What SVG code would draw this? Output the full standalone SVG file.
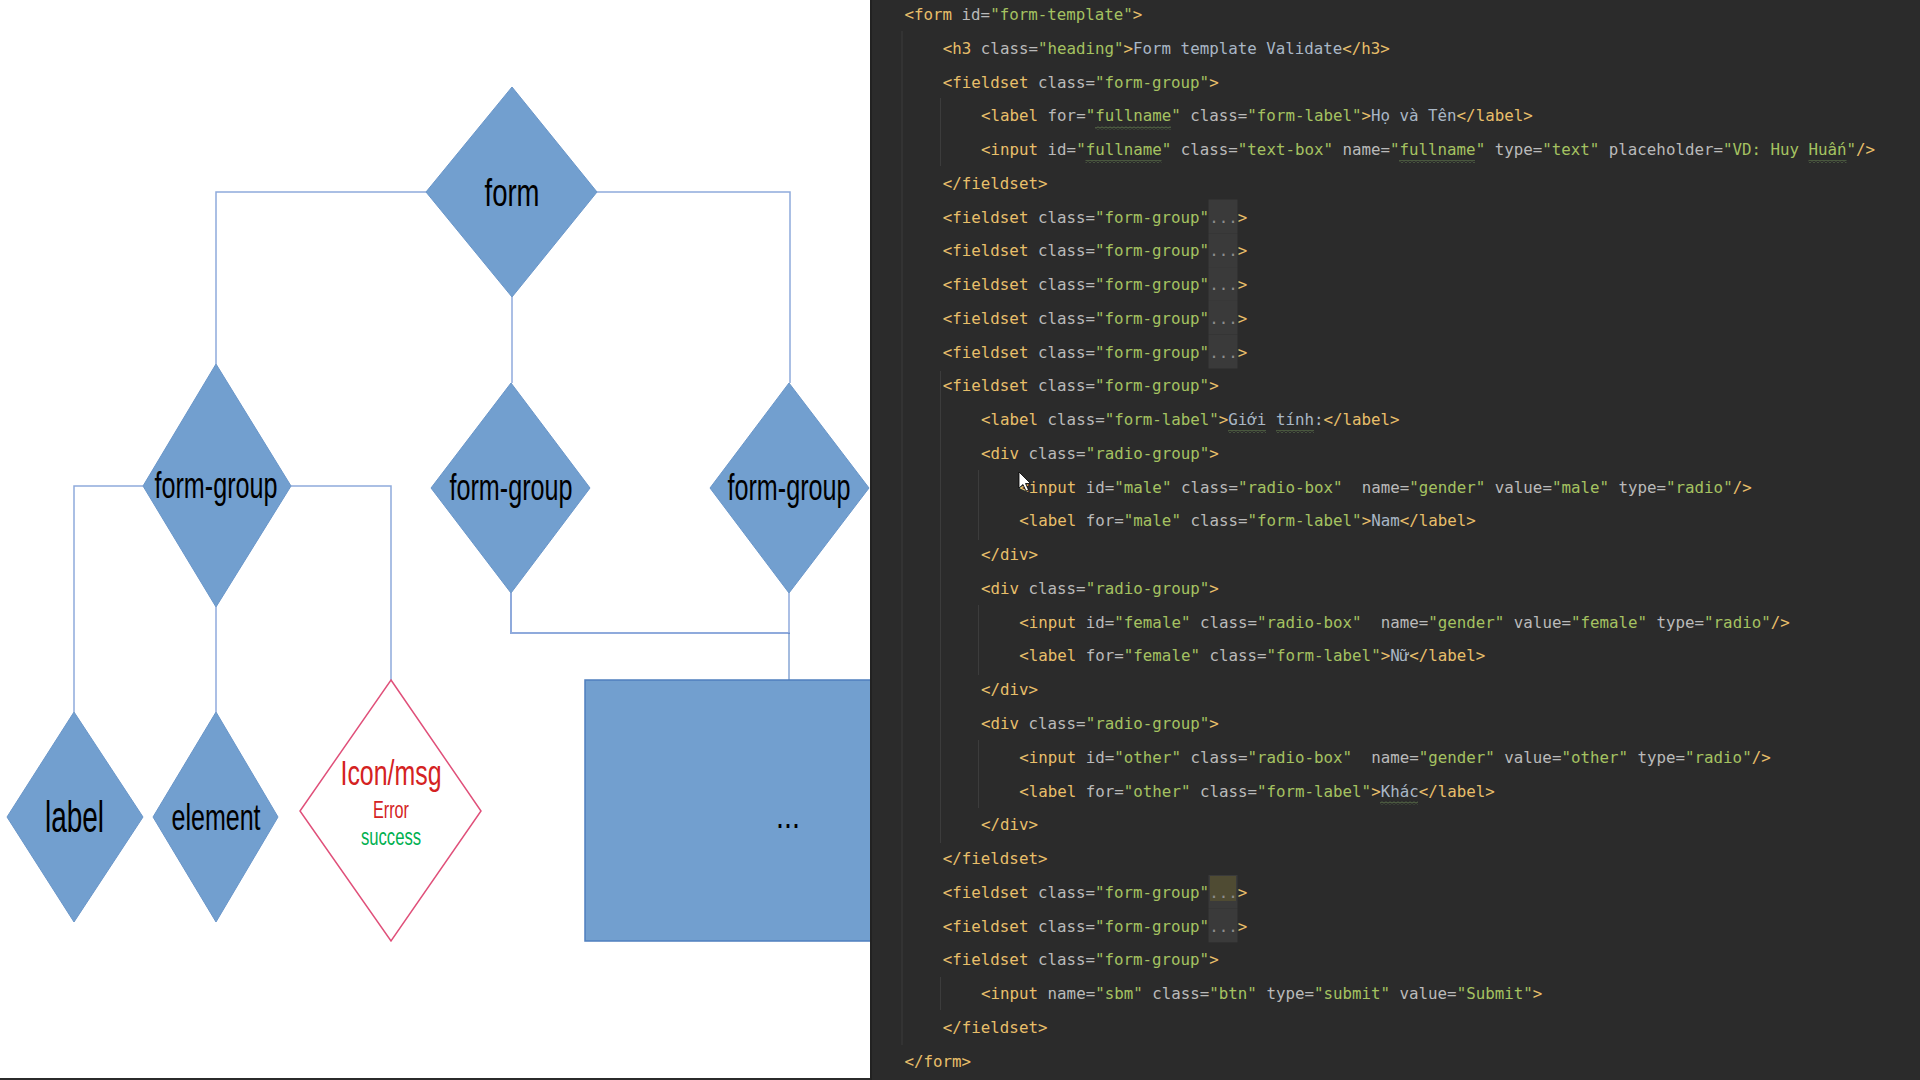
<svg xmlns="http://www.w3.org/2000/svg" width="1920" height="1080" viewBox="0 0 1920 1080">
<style>
.dia{fill:#729fcf;stroke:#6a96c9;stroke-width:1}
.lbl{font-family:"Liberation Sans",Arial,sans-serif;fill:#000;text-anchor:middle}
.code{font-family:"DejaVu Sans Mono","Liberation Mono",monospace;font-size:15.8px;white-space:pre;fill:#a9b7c6}
.t{fill:#e8bf6a}
.a{fill:#bababa}
.s{fill:#a5c261}
.x{fill:#a9b7c6}
.f{fill:#8c8c8c}
.guide{stroke:#3c3c3c;stroke-width:1}
.fold{fill:#3a3a3a}
</style>
<defs>
<pattern id="wave" x="0" y="0" width="4" height="3" patternUnits="userSpaceOnUse">
<path d="M0,2.5 L2,0.5 L4,2.5" fill="none" stroke="#6e8f57" stroke-width="0.9"/>
</pattern>
</defs>
<rect x="0" y="0" width="1920" height="1080" fill="#ffffff"/>

<g id="connectors" fill="none" stroke="#8faadc" stroke-width="1.5">
<path d="M426,192 H216 V364"/>
<path d="M597,192 H790 V383"/>
<path d="M512,297 V383"/>
<path d="M143,486 H74 V712"/>
<path d="M291,486 H391 V680"/>
<path d="M216,607 V712"/>
<path d="M511,593 V633 H790" stroke-width="2"/>
<path d="M789,593 V633"/>
<path d="M789,633 V680" stroke="#4a78be" stroke-width="1"/>
</g>

<g id="node-form"><polygon class="dia" points="512,87 597,192 512,297 426,192"/><text class="lbl" x="512" y="206" font-size="38" textLength="55" lengthAdjust="spacingAndGlyphs">form</text></g>
<g id="node-formgroup-1"><polygon class="dia" points="216,364 291,486 216,607 143,486"/><text class="lbl" x="216" y="498" font-size="37" textLength="123" lengthAdjust="spacingAndGlyphs">form-group</text></g>
<g id="node-formgroup-2"><polygon class="dia" points="511,383 590,488 511,593 431,488"/><text class="lbl" x="511" y="500" font-size="37" textLength="123" lengthAdjust="spacingAndGlyphs">form-group</text></g>
<g id="node-formgroup-3"><polygon class="dia" points="789,383 869,488 789,593 710,488"/><text class="lbl" x="789" y="500" font-size="37" textLength="123" lengthAdjust="spacingAndGlyphs">form-group</text></g>
<g id="node-label"><polygon class="dia" points="74,712 143,817 74,922 7,817"/><text class="lbl" x="74.5" y="832" font-size="44" textLength="59" lengthAdjust="spacingAndGlyphs">label</text></g>
<g id="node-element"><polygon class="dia" points="216,712 278,817 216,922 153,817"/><text class="lbl" x="216" y="830" font-size="36" textLength="89" lengthAdjust="spacingAndGlyphs">element</text></g>
<g id="node-iconmsg"><polygon points="391,680 481,811 391,941 300,811" fill="#ffffff" stroke="#e0507a" stroke-width="1.5"/>
<text class="lbl" x="391" y="785" font-size="35" fill="#d42222" style="fill:#d42222" textLength="101" lengthAdjust="spacingAndGlyphs">Icon/msg</text>
<text class="lbl" x="391" y="818" font-size="23" style="fill:#d42222" textLength="36" lengthAdjust="spacingAndGlyphs">Error</text>
<text class="lbl" x="391" y="845" font-size="24" style="fill:#00b050" textLength="60" lengthAdjust="spacingAndGlyphs">success</text></g>
<g id="node-more"><rect x="585" y="680" width="300" height="261" fill="#729fcf" stroke="#4f7fbf" stroke-width="1.5"/><text class="lbl" x="788" y="828" font-size="36" textLength="24" lengthAdjust="spacingAndGlyphs">...</text></g>

<rect x="0" y="1078" width="872" height="2" fill="#2b2b2b"/>

<g id="code-panel">
<rect x="871" y="0" width="1049" height="1080" fill="#2b2b2b"/>
<rect x="870" y="0" width="2" height="1080" fill="#222222"/>
<g id="indent-guides">
<line class="guide" x1="902" y1="31" x2="902" y2="1045"/>
<line class="guide" x1="940.5" y1="98" x2="940.5" y2="166"/>
<line class="guide" x1="940.5" y1="371" x2="940.5" y2="843"/>
<line class="guide" x1="940.5" y1="977" x2="940.5" y2="1010"/>
<line class="guide" x1="978.5" y1="470" x2="978.5" y2="540"/>
<line class="guide" x1="978.5" y1="605" x2="978.5" y2="675"/>
<line class="guide" x1="978.5" y1="740" x2="978.5" y2="808"/>
</g>
<g id="fold-boxes">
<rect class="fold" x="1208.5" y="199.5" width="29" height="33.8"/>
<rect class="fold" x="1208.5" y="233.3" width="29" height="33.8"/>
<rect class="fold" x="1208.5" y="267.1" width="29" height="33.8"/>
<rect class="fold" x="1208.5" y="300.9" width="29" height="33.8"/>
<rect class="fold" x="1208.5" y="334.7" width="29" height="33.8"/>
<rect class="fold" x="1208.5" y="875" width="29" height="33.6"/>
<rect x="1210" y="876" width="26" height="25" fill="#4f4b33"/>
<rect class="fold" x="1208.5" y="908.6" width="29" height="33.8"/>
</g>
<g id="squiggles">
<rect x="1095" y="126.5" width="76" height="3" fill="url(#wave)"/>
<rect x="1085.5" y="160" width="76" height="3" fill="url(#wave)"/>
<rect x="1399" y="160" width="76" height="3" fill="url(#wave)"/>
<rect x="1808.5" y="160" width="38" height="3" fill="url(#wave)"/>
<rect x="1228" y="430" width="38" height="3" fill="url(#wave)"/>
<rect x="1276" y="430" width="38" height="3" fill="url(#wave)"/>
<rect x="1380" y="801.5" width="38" height="3" fill="url(#wave)"/>
</g>
<g id="code-text" xml:space="preserve">
<text class="code" x="904.5" y="20"><tspan class="t">&lt;form</tspan> <tspan class="a">id=</tspan><tspan class="s">"form-template"</tspan><tspan class="t">&gt;</tspan></text>
<text class="code" x="942.8" y="53.8"><tspan class="t">&lt;h3</tspan> <tspan class="a">class=</tspan><tspan class="s">"heading"</tspan><tspan class="t">&gt;</tspan><tspan class="x">Form template Validate</tspan><tspan class="t">&lt;/h3&gt;</tspan></text>
<text class="code" x="942.8" y="87.5"><tspan class="t">&lt;fieldset</tspan> <tspan class="a">class=</tspan><tspan class="s">"form-group"</tspan><tspan class="t">&gt;</tspan></text>
<text class="code" x="981" y="121.3"><tspan class="t">&lt;label</tspan> <tspan class="a">for=</tspan><tspan class="s">"fullname"</tspan> <tspan class="a">class=</tspan><tspan class="s">"form-label"</tspan><tspan class="t">&gt;</tspan><tspan class="x">Họ và Tên</tspan><tspan class="t">&lt;/label&gt;</tspan></text>
<text class="code" x="981" y="155"><tspan class="t">&lt;input</tspan> <tspan class="a">id=</tspan><tspan class="s">"fullname"</tspan> <tspan class="a">class=</tspan><tspan class="s">"text-box"</tspan> <tspan class="a">name=</tspan><tspan class="s">"fullname"</tspan> <tspan class="a">type=</tspan><tspan class="s">"text"</tspan> <tspan class="a">placeholder=</tspan><tspan class="s">"VD: Huy Huấn"</tspan><tspan class="t">/&gt;</tspan></text>
<text class="code" x="942.8" y="188.8"><tspan class="t">&lt;/fieldset&gt;</tspan></text>
<text class="code" x="942.8" y="222.6"><tspan class="t">&lt;fieldset</tspan> <tspan class="a">class=</tspan><tspan class="s">"form-group"</tspan><tspan class="f">...</tspan><tspan class="t">&gt;</tspan></text>
<text class="code" x="942.8" y="256.3"><tspan class="t">&lt;fieldset</tspan> <tspan class="a">class=</tspan><tspan class="s">"form-group"</tspan><tspan class="f">...</tspan><tspan class="t">&gt;</tspan></text>
<text class="code" x="942.8" y="290.1"><tspan class="t">&lt;fieldset</tspan> <tspan class="a">class=</tspan><tspan class="s">"form-group"</tspan><tspan class="f">...</tspan><tspan class="t">&gt;</tspan></text>
<text class="code" x="942.8" y="323.8"><tspan class="t">&lt;fieldset</tspan> <tspan class="a">class=</tspan><tspan class="s">"form-group"</tspan><tspan class="f">...</tspan><tspan class="t">&gt;</tspan></text>
<text class="code" x="942.8" y="357.6"><tspan class="t">&lt;fieldset</tspan> <tspan class="a">class=</tspan><tspan class="s">"form-group"</tspan><tspan class="f">...</tspan><tspan class="t">&gt;</tspan></text>
<text class="code" x="942.8" y="391.4"><tspan class="t">&lt;fieldset</tspan> <tspan class="a">class=</tspan><tspan class="s">"form-group"</tspan><tspan class="t">&gt;</tspan></text>
<text class="code" x="981" y="425.1"><tspan class="t">&lt;label</tspan> <tspan class="a">class=</tspan><tspan class="s">"form-label"</tspan><tspan class="t">&gt;</tspan><tspan class="x">Giới tính:</tspan><tspan class="t">&lt;/label&gt;</tspan></text>
<text class="code" x="981" y="458.9"><tspan class="t">&lt;div</tspan> <tspan class="a">class=</tspan><tspan class="s">"radio-group"</tspan><tspan class="t">&gt;</tspan></text>
<text class="code" x="1019.2" y="492.6"><tspan class="t">&lt;input</tspan> <tspan class="a">id=</tspan><tspan class="s">"male"</tspan> <tspan class="a">class=</tspan><tspan class="s">"radio-box"</tspan>  <tspan class="a">name=</tspan><tspan class="s">"gender"</tspan> <tspan class="a">value=</tspan><tspan class="s">"male"</tspan> <tspan class="a">type=</tspan><tspan class="s">"radio"</tspan><tspan class="t">/&gt;</tspan></text>
<text class="code" x="1019.2" y="526.4"><tspan class="t">&lt;label</tspan> <tspan class="a">for=</tspan><tspan class="s">"male"</tspan> <tspan class="a">class=</tspan><tspan class="s">"form-label"</tspan><tspan class="t">&gt;</tspan><tspan class="x">Nam</tspan><tspan class="t">&lt;/label&gt;</tspan></text>
<text class="code" x="981" y="560.2"><tspan class="t">&lt;/div&gt;</tspan></text>
<text class="code" x="981" y="593.9"><tspan class="t">&lt;div</tspan> <tspan class="a">class=</tspan><tspan class="s">"radio-group"</tspan><tspan class="t">&gt;</tspan></text>
<text class="code" x="1019.2" y="627.7"><tspan class="t">&lt;input</tspan> <tspan class="a">id=</tspan><tspan class="s">"female"</tspan> <tspan class="a">class=</tspan><tspan class="s">"radio-box"</tspan>  <tspan class="a">name=</tspan><tspan class="s">"gender"</tspan> <tspan class="a">value=</tspan><tspan class="s">"female"</tspan> <tspan class="a">type=</tspan><tspan class="s">"radio"</tspan><tspan class="t">/&gt;</tspan></text>
<text class="code" x="1019.2" y="661.4"><tspan class="t">&lt;label</tspan> <tspan class="a">for=</tspan><tspan class="s">"female"</tspan> <tspan class="a">class=</tspan><tspan class="s">"form-label"</tspan><tspan class="t">&gt;</tspan><tspan class="x">Nữ</tspan><tspan class="t">&lt;/label&gt;</tspan></text>
<text class="code" x="981" y="695.2"><tspan class="t">&lt;/div&gt;</tspan></text>
<text class="code" x="981" y="729"><tspan class="t">&lt;div</tspan> <tspan class="a">class=</tspan><tspan class="s">"radio-group"</tspan><tspan class="t">&gt;</tspan></text>
<text class="code" x="1019.2" y="762.7"><tspan class="t">&lt;input</tspan> <tspan class="a">id=</tspan><tspan class="s">"other"</tspan> <tspan class="a">class=</tspan><tspan class="s">"radio-box"</tspan>  <tspan class="a">name=</tspan><tspan class="s">"gender"</tspan> <tspan class="a">value=</tspan><tspan class="s">"other"</tspan> <tspan class="a">type=</tspan><tspan class="s">"radio"</tspan><tspan class="t">/&gt;</tspan></text>
<text class="code" x="1019.2" y="796.5"><tspan class="t">&lt;label</tspan> <tspan class="a">for=</tspan><tspan class="s">"other"</tspan> <tspan class="a">class=</tspan><tspan class="s">"form-label"</tspan><tspan class="t">&gt;</tspan><tspan class="x">Khác</tspan><tspan class="t">&lt;/label&gt;</tspan></text>
<text class="code" x="981" y="830.2"><tspan class="t">&lt;/div&gt;</tspan></text>
<text class="code" x="942.8" y="864"><tspan class="t">&lt;/fieldset&gt;</tspan></text>
<text class="code" x="942.8" y="897.8"><tspan class="t">&lt;fieldset</tspan> <tspan class="a">class=</tspan><tspan class="s">"form-group"</tspan><tspan class="f">...</tspan><tspan class="t">&gt;</tspan></text>
<text class="code" x="942.8" y="931.5"><tspan class="t">&lt;fieldset</tspan> <tspan class="a">class=</tspan><tspan class="s">"form-group"</tspan><tspan class="f">...</tspan><tspan class="t">&gt;</tspan></text>
<text class="code" x="942.8" y="965.3"><tspan class="t">&lt;fieldset</tspan> <tspan class="a">class=</tspan><tspan class="s">"form-group"</tspan><tspan class="t">&gt;</tspan></text>
<text class="code" x="981" y="999"><tspan class="t">&lt;input</tspan> <tspan class="a">name=</tspan><tspan class="s">"sbm"</tspan> <tspan class="a">class=</tspan><tspan class="s">"btn"</tspan> <tspan class="a">type=</tspan><tspan class="s">"submit"</tspan> <tspan class="a">value=</tspan><tspan class="s">"Submit"</tspan><tspan class="t">&gt;</tspan></text>
<text class="code" x="942.8" y="1032.8"><tspan class="t">&lt;/fieldset&gt;</tspan></text>
<text class="code" x="904.5" y="1066.6"><tspan class="t">&lt;/form&gt;</tspan></text>
</g>
<polygon id="cursor" points="1019,472 1019,488 1023,484.5 1026,491 1028.5,490 1025.5,483.5 1030.5,483.5" fill="#ffffff" stroke="#000000" stroke-width="0.8"/>
</g>
</svg>
